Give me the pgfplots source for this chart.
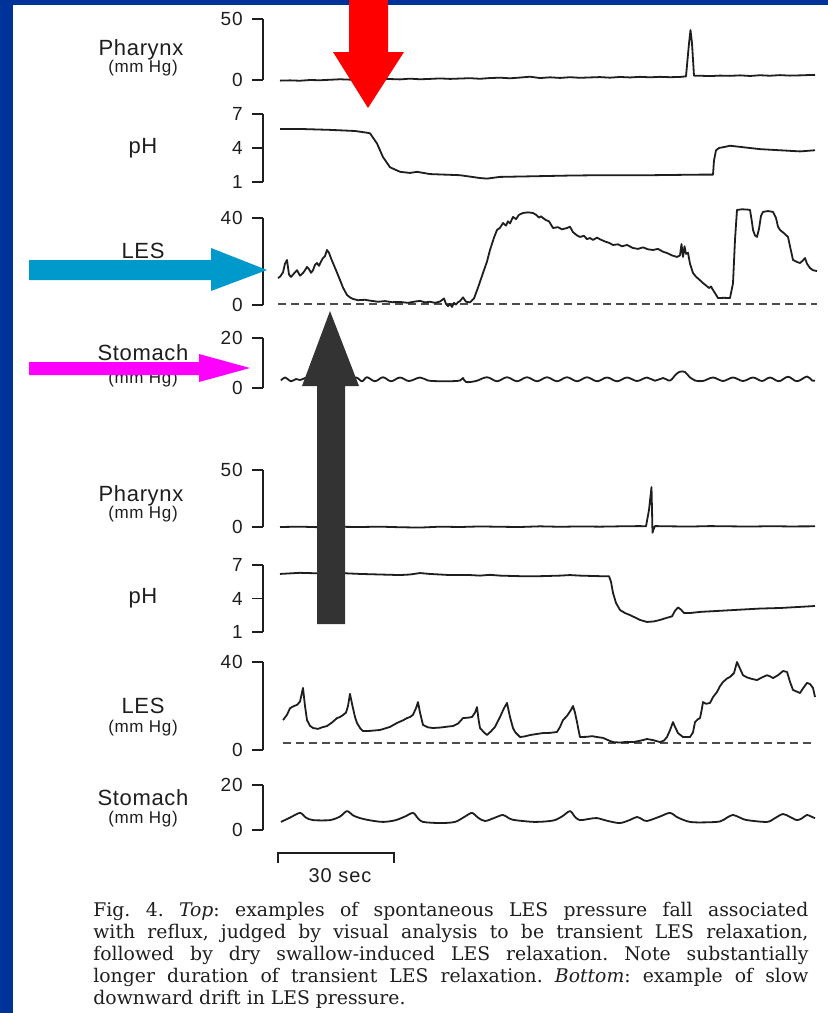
\documentclass[border=0pt]{standalone}
\usepackage{pgfplots}
\pgfplotsset{compat=1.18}
\usepackage{fontspec}
\newfontfamily\labsf[LetterSpace=3]{Liberation Sans}
\newfontfamily\smsf[LetterSpace=4]{Liberation Sans}
\newfontfamily\ticksf[LetterSpace=5]{Liberation Sans}
\newfontfamily\capfont{DejaVu Serif}
\definecolor{slideblue}{RGB}{0,51,153}
\definecolor{arrblue}{RGB}{0,153,204}
\definecolor{arrdark}{RGB}{51,51,51}
\definecolor{arrmag}{RGB}{255,0,255}
\definecolor{arrred}{RGB}{255,0,0}
\definecolor{ink}{RGB}{30,30,30}
\pgfplotsset{
  trace/.style={
    scale only axis, width=277pt, xmin=263, xmax=817, clip=false,
    axis x line=none, axis y line=left,
    axis line style={-, line width=0.8pt, ink},
    y axis line style={-},
    tick align=outside, major tick length=5.5pt,
    ytick style={line width=0.8pt, ink},
    yticklabel style={font=\ticksf\fontsize{9.5}{11}\selectfont, text=ink, inner sep=4.5pt},
    /pgf/number format/assume math mode=true,
    anchor=south west,
  },
  tr/.style={ink, line width=0.9pt, no markers, line join=round},
  base/.style={black!70, line width=0.7pt, dash pattern=on 4pt off 2.5pt, no markers},
}
\tikzset{
  lab/.style={font=\labsf\fontsize{11}{13}\selectfont, text=ink, inner sep=0pt, anchor=base},
  sub/.style={font=\smsf\fontsize{8.5}{10}\selectfont, text=ink, inner sep=0pt, anchor=base},
}
\begin{document}
\begin{tikzpicture}
\useasboundingbox (0,0) rectangle (414pt,-506.5pt);
\clip (0,0) rectangle (414pt,-506.5pt);
\begin{scope}[x=0.5pt,y=-0.5pt]
\fill[slideblue] (0,0) rectangle (828,1013);
\fill[white] (13,5) rectangle (828,1013);
\end{scope}

% ---------- TOP: Pharynx ----------
\begin{axis}[trace, at={(131.5pt,-40pt)}, height=30.5pt, ymin=0, ymax=50, ytick={0,50}, yticklabels={0,50}]
\addplot[tr] coordinates {(280,-0.5) (290,-0.3) (300,-0.6) (310,0) (320,-0.2) (330,0.2) (340,0.6) (350,0.3) (360,0.8) (370,0.5) (380,1.2) (390,0.8) (400,0.5) (410,1.1) (420,0.6) (430,0.9) (440,1.3) (450,0.9) (460,1.2) (470,1.5) (480,1.0) (490,1.6) (500,1.9) (510,1.4) (520,2.0) (530,2.7) (540,1.6) (550,2.2) (560,1.7) (570,2.3) (580,1.8) (590,2.1) (600,2.4) (610,1.9) (620,2.5) (630,2.1) (640,2.6) (650,2.2) (660,2.6) (670,2.3) (680,2.5) (686,3.0) (689,30) (690.5,41) (692,30) (694,3.5) (700,3.5) (710,3.2) (720,3.6) (730,3.4) (740,3.8) (750,3.3) (760,3.9) (770,3.5) (780,4.0) (790,3.6) (800,3.8) (810,4.1) (815,4.2)};
\end{axis}

% ---------- TOP: pH ----------
\begin{axis}[trace, at={(131.5pt,-91pt)}, height=34pt, ymin=1, ymax=7, ytick={1,4,7}, yticklabels={1,4,7}]
\addplot[tr] coordinates {(280,5.68) (300,5.68) (330,5.6) (355,5.5) (367,5.35) (370,5.3) (377,4.4) (383,3.2) (390,2.3) (400,1.9) (410,1.8) (417,1.9) (430,1.7) (460,1.6) (480,1.35) (487,1.3) (500,1.45) (530,1.5) (570,1.57) (600,1.6) (650,1.6) (700,1.65) (713,1.65) (714,2.9) (716,3.8) (719,4.0) (725,4.1) (730,4.2) (740,4.1) (760,3.9) (780,3.8) (800,3.7) (815,3.8)};
\end{axis}

% ---------- TOP: LES ----------
\begin{axis}[trace, at={(131.5pt,-152.5pt)}, height=43.5pt, ymin=0, ymax=40, ytick={0,40}, yticklabels={0,40}]
\addplot[base] coordinates {(278,0.5) (817,0.5)};
\addplot[tr] coordinates {(278,12.4) (280,13) (283,15) (285,19) (287,20.7) (289,14) (291,12.9) (294,14.5) (297,16) (300,13.5) (303,14.7) (305,16) (307,17.5) (309,16.5) (311,14.8) (313,16) (315,18.5) (317,19.3) (319,18) (321,20) (323,21.6) (325,22.5) (327,25.3) (329,24) (331,21.5) (333,19.3) (336,16) (340,11.5) (343,8) (347,4.6) (350,3.5) (353,2.8) (358,2.2) (365,2.4) (370,2.0) (378,1.5) (385,1.8) (392,1.3) (400,1.4) (408,1.0) (415,1.6) (420,1.9) (425,1.2) (430,1.5) (435,1.0) (440,1.6) (444,3.0) (446,0.5) (448,-0.5) (450,0.5) (452,-0.9) (454,1.0) (456,0.2) (458,1.3) (460,1.8) (463,3.5) (466,1.5) (470,1.2) (474,3) (478,8) (483,14.7) (487,20) (490,25.3) (494,31) (497,34.5) (500,35.5) (503,37.7) (506,36.5) (508,38.5) (510,37.5) (513,40.5) (516,39.5) (519,41.5) (523,42.3) (528,42.6) (533,42.3) (536,41.5) (539,40.2) (541,40.8) (543,40) (546,39) (549,38.5) (553,35.4) (558,35.8) (562,34.8) (567,35.4) (570,36) (573,33.5) (577,32) (580,31.3) (584,31.8) (587,30.3) (590,30.8) (593,29.9) (597,31) (600,30.2) (605,29.2) (609,28.6) (613,27.6) (618,27.9) (622,27) (627,27.6) (633,26.2) (638,25.8) (643,26.5) (648,25.6) (653,25.3) (658,25.8) (663,24.5) (667,23.9) (672,22.8) (677,22.1) (680,22.8) (681.5,28) (683,22.1) (684.5,27) (686,23.5) (688,24) (690,19) (693,14.7) (696,13) (699,11.8) (703,10.1) (706,9) (709,7.8) (711,8.5) (713,6.9) (715,5.5) (718,3.2) (724,3.3) (730,3.2) (733,10) (735,30) (737,43.7) (742,44) (747,43.9) (750,43.7) (752,38) (753,34.5) (755,32) (757,31.3) (759,35) (761,41) (763,42.8) (768,43.2) (773,42.8) (776,40) (778,36) (780,34.5) (784,33) (788,31.3) (790,27) (793,20.7) (797,19.8) (800,19.3) (803,20.5) (805,21.6) (807,19) (810,17) (813,16) (817,15.6)};
\end{axis}

% ---------- TOP: Stomach ----------
\begin{axis}[trace, at={(131.5pt,-194pt)}, height=25pt, ymin=0, ymax=20, ytick={0,20}, yticklabels={0,20}]
\addplot[tr, smooth, tension=0.6] coordinates {(281,3.0) (285,4.2) (291,2.7) (296,3.6) (300,3.2) (308,4.2) (316,2.7) (324,4.2) (332,2.7) (340,4.2) (348,2.7) (356,4.2) (362,2.7) (367,4.3) (375,2.7) (383,4.3) (391,2.7) (400,4.2) (409,2.8) (420,4.2) (428,3.0) (440,2.7) (450,2.7) (460,3.0) (463,4.0) (466,2.4) (476,2.8) (487,4.3) (497,2.7) (507,4.3) (517,2.7) (527,4.3) (537,2.7) (547,4.3) (557,2.7) (567,4.3) (577,2.7) (587,4.3) (597,2.7) (607,4.2) (617,2.7) (627,4.2) (637,2.8) (647,4.2) (655,2.9) (663,4.0) (670,3.0) (676,5.5) (680,6.5) (685,6.4) (690,4.2) (695,3.0) (703,2.8) (713,4.2) (723,2.8) (733,4.2) (743,2.8) (753,4.2) (762,2.8) (770,4.2) (779,2.7) (788,4.5) (797,2.7) (807,4.6) (812,3.0) (815,3.0)};
\end{axis}

% ---------- BOTTOM: Pharynx ----------
\begin{axis}[trace, at={(131.5pt,-263.5pt)}, height=28.5pt, ymin=0, ymax=50, ytick={0,50}, yticklabels={0,50}]
\addplot[tr] coordinates {(280,0) (300,0.3) (320,-0.2) (340,0.2) (360,0) (380,0.3) (400,-0.2) (420,-0.5) (440,0.3) (460,0) (480,0.5) (500,0.2) (520,0) (540,0.6) (560,0.2) (580,0.5) (600,0.3) (620,0.6) (640,0.8) (646,0.6) (649,15) (651.5,35) (652.5,-5) (653.5,-2) (655,0.8) (670,0.6) (690,0.4) (710,0.8) (730,0.6) (750,0.4) (770,0.7) (790,0.5) (815,0.6)};
\end{axis}

% ---------- BOTTOM: pH ----------
\begin{axis}[trace, at={(131.5pt,-316pt)}, height=33.5pt, ymin=1, ymax=7, ytick={1,4,7}, yticklabels={1,4,7}]
\addplot[tr] coordinates {(280,6.2) (290,6.25) (300,6.3) (320,6.25) (340,6.28) (360,6.2) (380,6.15) (400,6.1) (410,6.15) (420,6.28) (430,6.2) (450,6.1) (470,6.1) (480,6.05) (490,6.12) (500,6.05) (520,6.0) (540,6.0) (560,6.05) (570,6.1) (580,6.05) (600,6.0) (609,6.0) (611,5.5) (613,4.5) (616,3.6) (620,2.97) (625,2.7) (630,2.52) (635,2.3) (640,2.08) (647,1.9) (654,1.95) (660,2.08) (666,2.25) (672,2.4) (675,2.9) (678,3.2) (681,3.0) (684,2.7) (690,2.7) (700,2.8) (720,2.9) (740,3.0) (760,3.1) (780,3.15) (800,3.25) (815,3.33)};
\end{axis}

% ---------- BOTTOM: LES ----------
\begin{axis}[trace, at={(131.5pt,-375pt)}, height=44pt, ymin=0, ymax=40, ytick={0,40}, yticklabels={0,40}]
\addplot[base] coordinates {(283,3.2) (815,3.2)};
\addplot[tr] coordinates {(283,13.6) (287,16) (290,19) (294,20) (297,20.5) (300,22) (303,28.2) (305,20) (307,13.6) (310,11) (313,10) (318,9.6) (322,10.3) (327,10.9) (332,12.5) (337,14.5) (340,15) (343,15.9) (346,17) (348,20) (350,25.5) (352,21) (355,15) (357,12.3) (360,10) (363,8.6) (370,8.7) (380,9.1) (390,10.5) (397,12.3) (403,13.5) (407,14.5) (410,15) (413,16) (416,19) (418,21.8) (420,17) (423,11.4) (428,10.3) (433,10) (440,10.2) (447,10.6) (453,10.9) (458,12) (463,14.5) (468,14.7) (472,15) (475,17) (477,19.5) (478.5,14) (480,10) (484,8) (487,6.8) (491,8.5) (495,10.5) (500,15) (504,19) (507,21.4) (510,15) (513,10) (515,8.2) (520,5.9) (525,6.2) (530,6.8) (537,7.3) (543,7.7) (550,7.8) (557,8.2) (560,10.5) (563,13.6) (567,15.5) (571,18.2) (573,20) (575,17) (577,12.7) (579,8) (580,5.9) (587,6) (592,6.3) (597,5.9) (603,5.5) (608,4.5) (613,3.6) (620,3.4) (627,3.7) (633,3.6) (640,4.2) (647,5) (653,4.5) (660,3.6) (664,4.3) (667,5.9) (670,9) (673,12.7) (675,10.5) (678,7.7) (683,5.9) (690,5.9) (693,8) (695,12.7) (698,14) (700,14.5) (702,19) (703,21.8) (706,21) (710,21.4) (713,24) (717,26.4) (720,29) (723,30.9) (727,32.5) (730,33.2) (734,35) (737,40) (740,37) (743,34) (747,33) (752,32.3) (757,31.8) (762,33) (767,34) (770,33.5) (773,32.7) (778,34) (783,35.9) (787,35.5) (790,31) (793,27.3) (797,26.5) (800,25.9) (803,28) (807,30.5) (810,30) (813,28.2) (815,24.1)};
\end{axis}

% ---------- BOTTOM: Stomach ----------
\begin{axis}[trace, at={(131.5pt,-415pt)}, height=22.5pt, ymin=0, ymax=20, ytick={0,20}, yticklabels={0,20}]
\addplot[tr, smooth, tension=0.5] coordinates {(281,3.6) (290,5.5) (300,7.6) (306,5.5) (313,4.4) (330,4.4) (340,6) (347,8.4) (353,6.5) (360,5.3) (370,4.3) (383,3.6) (395,4.3) (405,6) (413,7.6) (418,5.2) (423,3.6) (440,3.1) (455,3.6) (465,6) (472,7.6) (478,5.5) (485,4.0) (495,5.5) (503,6.7) (509,5.2) (515,4.4) (535,3.6) (553,4.2) (562,6) (570,8.4) (575,5.8) (580,4.4) (590,5.0) (597,5.3) (608,4.0) (620,3.1) (630,4.5) (637,5.8) (642,4.8) (647,4.0) (660,6) (670,7.6) (678,5.5) (690,3.6) (705,3.4) (720,3.8) (727,5.5) (733,6.7) (740,5.5) (747,4.4) (767,3.6) (775,5.3) (783,7.1) (790,5.8) (797,4.4) (802,5.2) (807,6.7) (812,5.8) (815,5.3)};
\end{axis}

\begin{scope}[x=0.5pt,y=-0.5pt]
% channel labels
\node[lab] at (141,55) {Pharynx};
\node[sub] at (143,72) {(mm Hg)};
\node[lab] at (143,153) {pH};
\node[lab] at (143,258) {LES};
\node[lab] at (143,360) {Stomach};
\node[sub] at (143,383) {(mm Hg)};
\node[lab] at (141,501) {Pharynx};
\node[sub] at (143,518) {(mm Hg)};
\node[lab] at (143,603) {pH};
\node[lab] at (143,713) {LES};
\node[sub] at (143,732) {(mm Hg)};
\node[lab] at (143,805) {Stomach};
\node[sub] at (143,823) {(mm Hg)};
% time scale bar
\draw[ink, line width=0.8pt] (278,863) -- (278,853) -- (394,853) -- (394,863);
\node[font=\ticksf\fontsize{10}{12}\selectfont, text=ink, inner sep=0pt, anchor=base] at (340,882) {30 sec};
% caption
\begin{scope}[every node/.style={inner sep=0pt, anchor=base west, text=ink, font=\capfont\fontsize{9.4}{11}\selectfont\frenchspacing}]
\node at (93,916) {\makebox[357.5pt][s]{Fig. 4. \textit{Top}: examples of spontaneous LES pressure fall associated}};
\node at (93,938) {\makebox[357.5pt][s]{with reflux, judged by visual analysis to be transient LES relaxation,}};
\node at (93,960) {\makebox[357.5pt][s]{followed by dry swallow-induced LES relaxation. Note substantially}};
\node at (93,982) {\makebox[357.5pt][s]{longer duration of transient LES relaxation. \textit{Bottom}: example of slow}};
\node at (93,1004) {downward drift in LES pressure.};
\end{scope}
% annotation arrows
\fill[arrred] (349,-2) -- (388,-2) -- (388,52) -- (404,52) -- (368,108) -- (333,52) -- (349,52) -- cycle;
\fill[arrblue] (29,260) -- (211,260) -- (211,248) -- (267,270) -- (211,291) -- (211,280) -- (29,280) -- cycle;
\fill[arrmag] (29,362) -- (199,362) -- (199,354) -- (250,368) -- (199,382) -- (199,375) -- (29,375) -- cycle;
\fill[arrdark] (317,624) -- (317,386) -- (302,386) -- (330,311) -- (359,386) -- (345,386) -- (345,624) -- cycle;
\end{scope}
\end{tikzpicture}
\end{document}
